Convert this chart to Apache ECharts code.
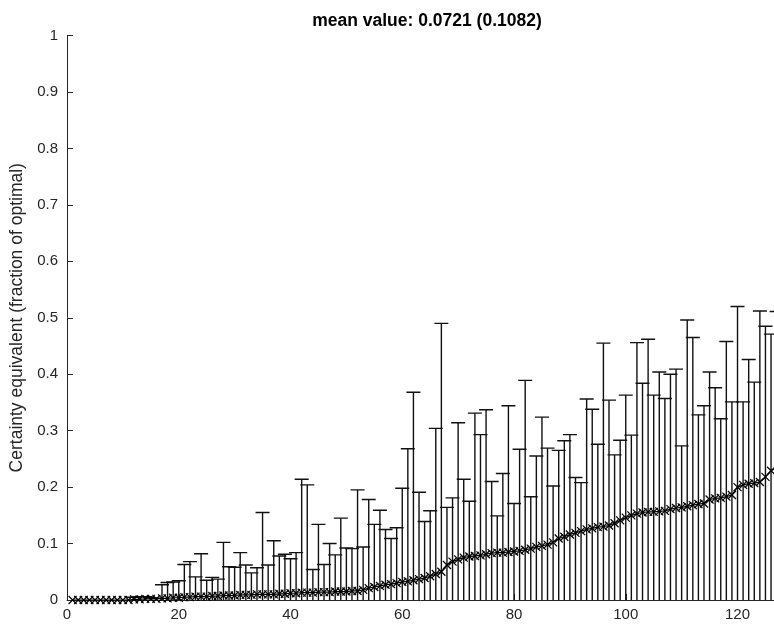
<!DOCTYPE html>
<html>
<head>
<meta charset="utf-8">
<script src="https://cdn.jsdelivr.net/npm/echarts@6/dist/echarts.min.js"></script>
<style>
html,body{margin:0;padding:0;background:#fff;}
#chart{width:774px;height:626px;}
</style>
</head>
<body>
<div id="chart"></div>
<script>
// x positions (index 1..127)
const xs = [];
for (let i = 1; i <= 127; i++) xs.push(i);

// mean values (x markers)
const means = [
  0,0,0,0,0,0,0,0,0,0,
  0,0.001,0.001,0.002,0.002,0.002,0.003,0.003,0.004,0.004,
  0.005,0.005,0.006,0.006,0.006,0.007,0.007,0.008,0.008,0.008,
  0.009,0.009,0.009,0.010,0.010,0.010,0.010,0.011,0.011,0.012,
  0.012,0.013,0.013,0.013,0.014,0.014,0.014,0.015,0.015,0.015,
  0.016,0.016,0.018,0.021,0.023,0.025,0.027,0.028,0.030,0.032,
  0.033,0.035,0.037,0.039,0.042,0.046,0.050,0.062,0.068,0.072,
  0.075,0.077,0.078,0.079,0.081,0.083,0.084,0.084,0.085,0.086,
  0.087,0.089,0.091,0.094,0.096,0.098,0.102,0.109,0.112,0.116,
  0.119,0.122,0.125,0.127,0.129,0.130,0.132,0.136,0.141,0.146,
  0.150,0.153,0.155,0.156,0.156,0.157,0.158,0.161,0.163,0.164,
  0.166,0.168,0.170,0.171,0.178,0.180,0.181,0.183,0.186,0.200,
  0.204,0.206,0.207,0.209,0.218,0.229,0.235
];

// upper ends of the error bars (null = no visible bar)
const uppers = [
  null,null,null,null,null,null,null,null,null,null,
  null,0.005,0.006,0.006,0.004,0.003,0.027,0.031,0.032,0.034,
  0.063,0.068,0.041,0.082,0.035,0.040,0.037,0.102,0.059,0.058,
  0.084,0.062,0.048,0.057,0.155,0.062,0.105,0.078,0.081,0.073,
  0.084,0.214,0.204,0.054,0.134,0.063,0.100,0.080,0.145,0.092,
  0.091,0.195,0.094,0.178,0.134,0.159,0.125,0.109,0.128,0.198,
  0.268,0.368,0.191,0.139,0.158,0.304,0.490,0.164,0.181,0.314,
  0.214,0.175,0.331,0.293,0.337,0.210,0.149,0.224,0.344,0.171,
  0.267,0.389,0.183,0.255,0.324,0.269,0.202,0.265,0.282,0.293,
  0.217,0.208,0.356,0.338,0.276,0.455,0.354,0.257,0.283,0.363,
  0.292,0.456,0.384,0.462,0.363,0.404,0.357,0.400,0.409,0.273,
  0.496,0.465,0.328,0.344,0.404,0.376,0.321,0.458,0.351,0.520,
  0.351,0.426,0.386,0.512,0.485,0.471,0.511
];

const yTicks = [0,0.1,0.2,0.3,0.4,0.5,0.6,0.7,0.8,0.9,1];
const xTickStep = 20;
const titleText = 'mean value: 0.0721 (0.1082)';
const yName = 'Certainty equivalent (fraction of optimal)';

const errData = [];
xs.forEach((x, i) => { if (uppers[i] !== null) errData.push([x, uppers[i]]); });
const meanData = xs.map((x, i) => [x, means[i]]);

const chart = echarts.init(document.getElementById('chart'), null, {renderer: 'canvas'});
const FONT = "'Liberation Sans', Arial, Helvetica, sans-serif";
const AX = '#262626';

chart.setOption({
  animation: false,
  backgroundColor: '#ffffff',
  title: {
    text: titleText,
    left: 427,
    top: 12,
    padding: 0,
    textAlign: 'center',
    textStyle: {fontFamily: FONT, fontSize: 17.5, fontWeight: 'bold', color: '#000'}
  },
  grid: {left: 67, top: 35.5, width: 707, height: 564.5, containLabel: false},
  xAxis: {
    type: 'value', min: 0, max: 126.53, interval: xTickStep,
    axisLine: {lineStyle: {color: AX, width: 1}},
    axisTick: {inside: true, length: 6, lineStyle: {color: AX}},
    axisLabel: {
      color: AX, fontFamily: FONT, fontSize: 15, margin: 7, showMaxLabel: false,
      formatter: v => (Math.abs(v % xTickStep) < 1e-9 ? String(v) : '')
    },
    splitLine: {show: false}
  },
  yAxis: {
    type: 'value', min: yTicks[0], max: yTicks[yTicks.length - 1], interval: 0.1,
    name: yName, nameLocation: 'middle', nameGap: 33,
    nameTextStyle: {color: AX, fontFamily: FONT, fontSize: 17.5},
    axisLine: {lineStyle: {color: AX, width: 1}},
    axisTick: {inside: true, length: 6, lineStyle: {color: AX}},
    axisLabel: {color: AX, fontFamily: FONT, fontSize: 15, margin: 9},
    splitLine: {show: false}
  },
  series: [
    {
      type: 'custom',
      clip: true,
      data: errData,
      encode: {x: 0, y: 1},
      renderItem: (params, api) => {
        const x = api.value(0), hi = api.value(1);
        const p0 = api.coord([x, 0]);
        const p1 = api.coord([x, hi]);
        const hw = 7;
        const st = {stroke: '#111', lineWidth: 1.4};
        return {
          type: 'group',
          children: [
            {type: 'line', shape: {x1: p0[0], y1: p0[1], x2: p1[0], y2: p1[1]}, style: st},
            {type: 'line', shape: {x1: p1[0] - hw, y1: p1[1], x2: p1[0] + hw, y2: p1[1]}, style: st}
          ]
        };
      },
      z: 2
    },
    {
      type: 'line',
      clip: true,
      data: meanData,
      symbol: 'path://M0,0L10,10M10,0L0,10',
      symbolSize: 8,
      showAllSymbol: true,
      lineStyle: {color: '#000', width: 1.2},
      itemStyle: {color: 'none', borderColor: '#000', borderWidth: 1.2},
      z: 3
    }
  ]
});
</script>
</body>
</html>
